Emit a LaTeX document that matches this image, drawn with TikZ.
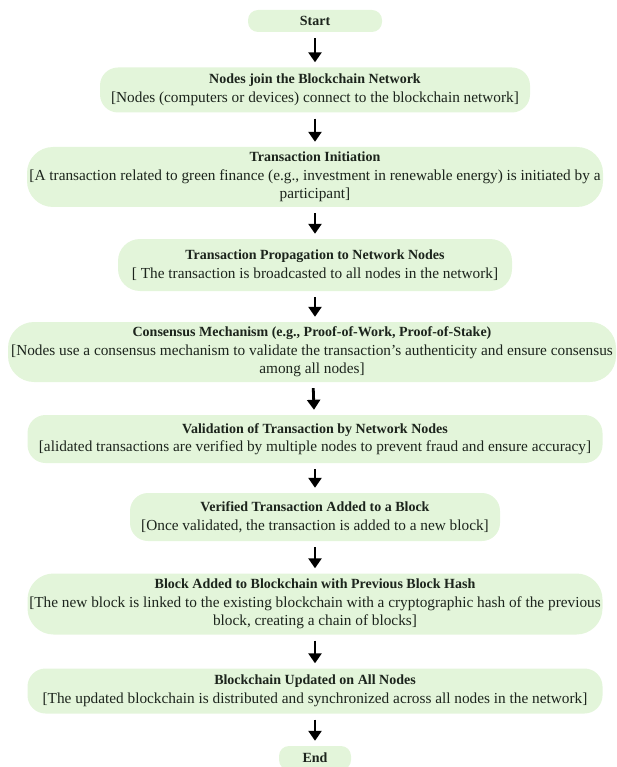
\documentclass[tikz,border=0pt]{standalone}
\usepackage{fontspec}
\setmainfont{Liberation Serif}
\usepackage{tikz}
\usetikzlibrary{arrows.meta}
\definecolor{stepfill}{RGB}{227,245,218}
\definecolor{steptext}{RGB}{28,36,28}
\newcommand{\steptitle}[1]{{\fontsize{14}{18.5}\selectfont\bfseries #1}}

\begin{document}
\begin{tikzpicture}[x=1pt, y=-1pt,
    box/.style={fill=stepfill, text=steptext, rounded corners=18pt, inner sep=0pt, align=center, font=\fontsize{15.3}{18.5}\selectfont},
    arrow/.style={-{Triangle[width=13pt,length=10pt]}, line width=2.8pt, shorten <=6pt, shorten >=5pt}
]
\useasboundingbox (0,0) rectangle (617,767);
\node[box, minimum width=134pt, minimum height=22pt, rounded corners=10pt] (start) at (315,21) {\steptitle{Start}};
\node[box, minimum width=430pt, minimum height=45pt] (join) at (315,90) {\steptitle{Nodes join the Blockchain Network}\\{[}Nodes (computers or devices) connect to the blockchain network]};
\node[box, minimum width=576pt, minimum height=60pt, rounded corners=26pt] (init) at (315,177) {\steptitle{Transaction Initiation}\\{[}A transaction related to green finance (e.g., investment in renewable energy) is initiated by a\\participant]};
\node[box, minimum width=394pt, minimum height=52pt, rounded corners=22pt] (prop) at (315,265) {\steptitle{Transaction Propagation to Network Nodes}\\{[} The transaction is broadcasted to all nodes in the network]};
\node[box, minimum width=608pt, minimum height=60pt, rounded corners=26pt] (consensus) at (312,352) {\steptitle{Consensus Mechanism (e.g., Proof-of-Work, Proof-of-Stake)}\\{[}Nodes use a consensus mechanism to validate the transaction's authenticity and ensure consensus\\among all nodes]};
\node[box, minimum width=575pt, minimum height=48pt] (validate) at (315,439) {\steptitle{Validation of Transaction by Network Nodes}\\{[}alidated transactions are verified by multiple nodes to prevent fraud and ensure accuracy]};
\node[box, minimum width=370pt, minimum height=48pt] (verified) at (315,517) {\steptitle{Verified Transaction Added to a Block}\\{[}Once validated, the transaction is added to a new block]};
\node[box, minimum width=575pt, minimum height=61pt, rounded corners=26pt] (block) at (315,604) {\steptitle{Block Added to Blockchain with Previous Block Hash}\\{[}The new block is linked to the existing blockchain with a cryptographic hash of the previous\\block, creating a chain of blocks]};
\node[box, minimum width=575pt, minimum height=45pt] (updated) at (315,691) {\steptitle{Blockchain Updated on All Nodes}\\{[}The updated blockchain is distributed and synchronized across all nodes in the network]};
\node[box, minimum width=72pt, minimum height=24pt, rounded corners=10pt] (end) at (315,758) {\steptitle{End}};

\draw[arrow] (start) -- (join);
\draw[arrow] (join) -- (init);
\draw[arrow] (init) -- (prop);
\draw[arrow] (prop) -- (consensus.north -| prop.south);
\draw[arrow] (consensus) -- (validate);
\draw[arrow] (validate) -- (verified);
\draw[arrow] (verified) -- (block);
\draw[arrow] (block) -- (updated);
\draw[arrow] (updated) -- (end);
\end{tikzpicture}
\end{document}
